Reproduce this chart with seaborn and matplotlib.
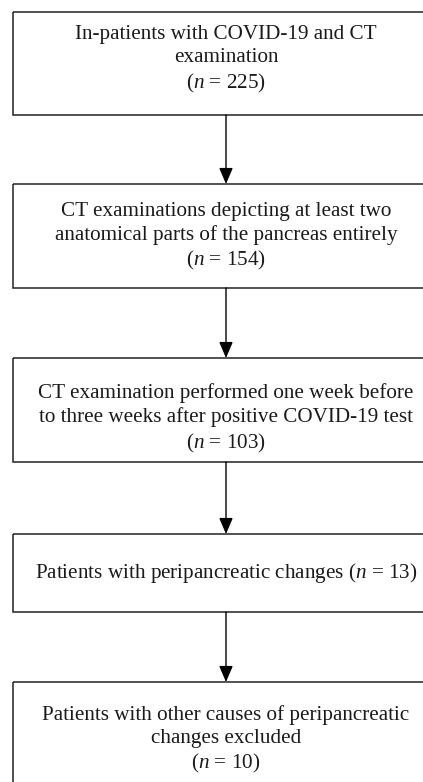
import matplotlib
matplotlib.use("Agg")
import matplotlib.pyplot as plt
import seaborn as sns
from matplotlib.patches import Rectangle

# flowchart content
steps = [
    "In-patients with COVID-19 and CT\nexamination",
    "CT examinations depicting at least two\nanatomical parts of the pancreas entirely",
    "CT examination performed one week before\nto three weeks after positive COVID-19 test",
    "Patients with peripancreatic changes",
    "Patients with other causes of peripancreatic\nchanges excluded",
]
counts = [225, 154, 103, 13, 10]
inline_count = [False, False, False, True, False]

# layout in pixel units (figure is 423 x 782)
box_top = [12, 184, 358, 534, 682]
box_bottom = [115, 288, 462, 612, 800]
text_y = [60, 237, 419, 573, 740]
box_left, box_right = 13, 440
center_x = 226

sns.set_theme(style="white")
plt.rcParams["font.family"] = ["Liberation Serif", "DejaVu Serif"]
plt.rcParams["mathtext.fontset"] = "custom"
plt.rcParams["mathtext.rm"] = "Liberation Serif"
plt.rcParams["mathtext.it"] = "Liberation Serif:italic"

fig = plt.figure(figsize=(4.23, 7.82), dpi=100)
ax = fig.add_axes([0, 0, 1, 1])
ax.set_xlim(0, 423)
ax.set_ylim(782, 0)
ax.axis("off")

edge = "#222222"
for i, label in enumerate(steps):
    ax.add_patch(Rectangle((box_left, box_top[i]), box_right - box_left,
                           box_bottom[i] - box_top[i], fill=False,
                           edgecolor=edge, linewidth=1.1))
    if inline_count[i]:
        txt = f"{label} ($n$ = {counts[i]})"
    else:
        txt = f"{label}\n($n$ = {counts[i]})"
    ax.text(center_x, text_y[i], txt, ha="center", va="center",
            fontsize=15.2, color="#1a1a1a", linespacing=1.28)

    if i < len(steps) - 1:
        ax.annotate("", xy=(center_x, box_top[i + 1]), xytext=(center_x, box_bottom[i]),
                    arrowprops=dict(arrowstyle="-|>,head_length=0.7,head_width=0.3",
                                    color="black", lw=1.0, shrinkA=0, shrinkB=0,
                                    mutation_scale=14))

sns.despine(left=True, bottom=True)
plt.savefig("out.png", dpi=100)
